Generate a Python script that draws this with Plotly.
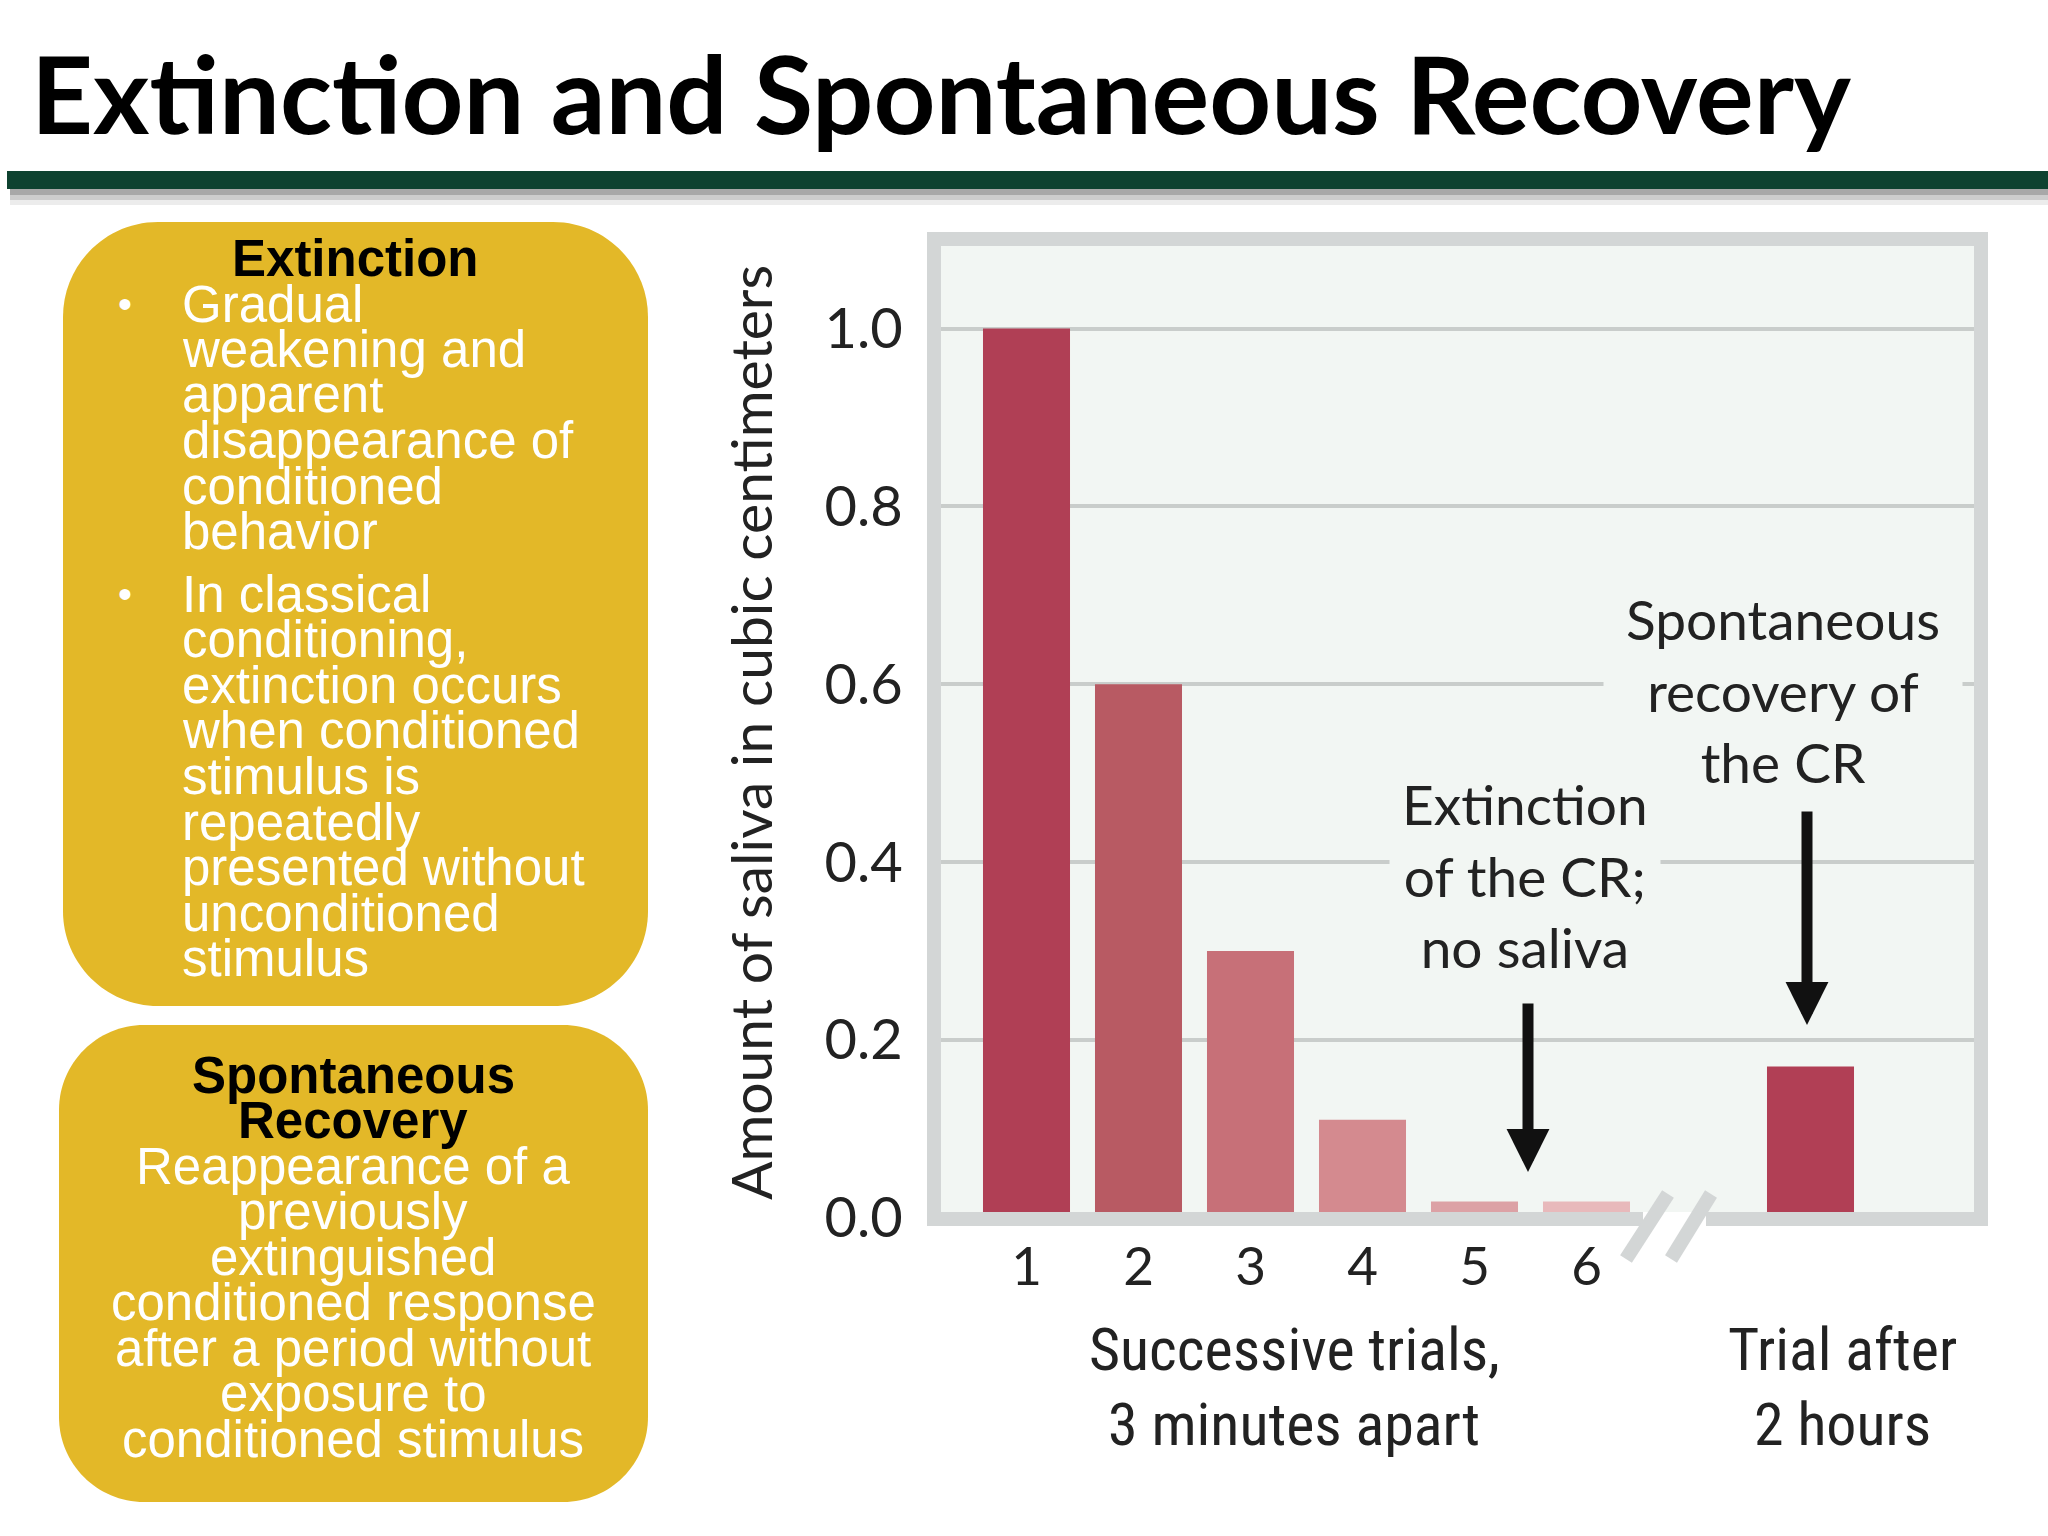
import plotly.graph_objects as go

W, H = 2048, 1536
L, R, T, B = 941, 1974, 246, 1219  # plot-area pixel bounds (bottom hidden under frame)


def px(xp):
    return (xp - L) / (R - L)


def py(yp):
    return (B - yp) / (B - T)


# ---------------- data ----------------
trial_pos = [1, 2, 3, 4, 5, 6]
trial_labels = ["1", "2", "3", "4", "5", "6"]
trial_saliva = [1.0, 0.6, 0.3, 0.11, 0.018, 0.018]
trial_colors = ["#b03f55", "#b85a63", "#c77078", "#d48a8f", "#dca1a5", "#e8b9bb"]
recovery_pos = [8]
recovery_saliva = [0.17]
recovery_colors = ["#b13f55"]
y_ticks = [0.0, 0.2, 0.4, 0.6, 0.8, 1.0]

extinction_heading = "Extinction"
extinction_bullet1 = ["Gradual", "weakening and", "apparent", "disappearance of",
                      "conditioned", "behavior"]
extinction_bullet2 = ["In classical", "conditioning,", "extinction occurs",
                      "when conditioned", "stimulus is", "repeatedly",
                      "presented without", "unconditioned", "stimulus"]
recovery_heading = ["Spontaneous", "Recovery"]
recovery_body = ["Reappearance of a", "previously", "extinguished",
                 "conditioned response", "after a period without",
                 "exposure to", "conditioned stimulus"]

CHART_FONT = "Lato, Open Sans, sans-serif"
ARIAL = "Liberation Sans, Arial, sans-serif"
NARROW = "Liberation Sans Narrow, Roboto Condensed, Arial Narrow, Liberation Sans, sans-serif"
BG = "#f2f6f3"
FRAME = "#d3d6d6"
GOLD = "#e3b828"

fig = go.Figure()
fig.add_bar(x=trial_pos, y=trial_saliva, marker_color=trial_colors,
            width=0.777, marker_line_width=0, hoverinfo="skip")
fig.add_bar(x=recovery_pos, y=recovery_saliva, marker_color=recovery_colors,
            width=0.777, marker_line_width=0, hoverinfo="skip")

ZERO_PX, UNIT_PX = 1217.6, 889.0
x_lo = 1 - (1026.5 - L) / 112.0
x_hi = 1 + (R - 1026.5) / 112.0
y_lo = -(B - ZERO_PX) / UNIT_PX
y_hi = (ZERO_PX - T) / UNIT_PX

shapes = []


def rect(x0, y0, x1, y1, color, layer="above"):
    shapes.append(dict(type="rect", xref="paper", yref="paper",
                       x0=px(x0), x1=px(x1), y0=py(y1), y1=py(y0),
                       fillcolor=color, line=dict(width=0), layer=layer))


def rrect(x0, y0, x1, y1, r, color):
    k = 0.5523 * r

    def p(a, b):
        return f"{px(a):.5f},{py(b):.5f}"
    path = (f"M{p(x0 + r, y0)} L{p(x1 - r, y0)} "
            f"C{p(x1 - r + k, y0)} {p(x1, y0 + r - k)} {p(x1, y0 + r)} "
            f"L{p(x1, y1 - r)} "
            f"C{p(x1, y1 - r + k)} {p(x1 - r + k, y1)} {p(x1 - r, y1)} "
            f"L{p(x0 + r, y1)} "
            f"C{p(x0 + r - k, y1)} {p(x0, y1 - r + k)} {p(x0, y1 - r)} "
            f"L{p(x0, y0 + r)} "
            f"C{p(x0, y0 + r - k)} {p(x0 + r - k, y0)} {p(x0 + r, y0)} Z")
    shapes.append(dict(type="path", xref="paper", yref="paper", path=path,
                       fillcolor=color, line=dict(width=0), layer="above"))


# header bar with shadow
rect(7, 171, 2048, 189, "#0e4230")
rect(10, 189, 2048, 195, "#a8a8a8")
rect(10, 195, 2048, 200, "#cdcdcd")
rect(10, 200, 2048, 205, "#ececec")

# chart frame
rect(927, 232, 1988, 246, FRAME)
rect(927, 232, 941, 1226, FRAME)
rect(1974, 232, 1988, 1226, FRAME)
rect(927, 1212, 1643, 1226, FRAME)
rect(1706, 1212, 1988, 1226, FRAME)
rect(1643, 1212, 1706, 1226, "#ffffff")
# axis break marks
for (a, b, c, d) in [(1626, 1259, 1668, 1194), (1671, 1259, 1711, 1194)]:
    shapes.append(dict(type="line", xref="paper", yref="paper",
                       x0=px(a), y0=py(b), x1=px(c), y1=py(d),
                       line=dict(color=FRAME, width=14), layer="above"))

# left boxes
rrect(63, 222, 648, 1006, 95, GOLD)
rrect(59, 1025, 648, 1502, 85, GOLD)

annotations = []


def text(s, x, y, size, color="#111", family=CHART_FONT, xanchor="center",
         weight="normal", **kw):
    annotations.append(dict(text=s, x=px(x), y=py(y), xref="paper", yref="paper",
                            xanchor=xanchor, yanchor="middle", showarrow=False,
                            font=dict(size=size, color=color, family=family,
                                      weight=weight), **kw))


# title
text("Extinction and Spontaneous Recovery", 29, 92, 108, "#000",
     family="Lato, sans-serif", xanchor="left", weight="bold")

# extinction box (tight line spacing as on the slide)
text(extinction_heading, 355, 259, 51, "#000", family=ARIAL, weight="bold")
for i, line in enumerate(extinction_bullet1):
    text(line, 180, 304 + i * 45.5, 51, "#fff", family=ARIAL, xanchor="left")
for i, line in enumerate(extinction_bullet2):
    text(line, 180, 594 + i * 45.6, 51, "#fff", family=ARIAL, xanchor="left")
text("•", 125, 304, 40, "#fff", family=ARIAL)
text("•", 125, 594, 40, "#fff", family=ARIAL)

# recovery box
for i, line in enumerate(recovery_heading):
    text(line, 353, 1075 + i * 45.5, 51, "#000", family=ARIAL, weight="bold")
for i, line in enumerate(recovery_body):
    text(line, 353, 1166 + i * 45.5, 51, "#fff", family=ARIAL)

# chart annotations
text("Spontaneous<br>recovery of<br>the CR", 1783, 690, 55, "#222",
     bgcolor=BG, borderpad=22)
text("Extinction<br>of the CR;<br>no saliva", 1525, 875, 55, "#222",
     bgcolor=BG, borderpad=12)

for (x, tip, start) in [(1528, 1172, 1002), (1807, 1025, 810)]:
    annotations.append(dict(text="", x=px(x), y=py(tip), xref="paper", yref="paper",
                            showarrow=True, ax=0, ay=-(tip - start), arrowhead=2,
                            arrowwidth=11, arrowsize=0.78, arrowcolor="#111",
                            standoff=0))

# x group labels
text("Successive trials,", 1294, 1349, 60, "#222", family=NARROW)
text("3 minutes apart", 1294, 1424, 60, "#222", family=NARROW)
text("Trial after", 1842, 1349, 60, "#222", family=NARROW)
text("2 hours", 1842, 1424, 60, "#222", family=NARROW)

fig.update_layout(
    width=W, height=H, autosize=False,
    margin=dict(l=L, r=W - R, t=T, b=H - B, pad=0),
    paper_bgcolor="#ffffff", plot_bgcolor=BG,
    barmode="overlay", showlegend=False,
    shapes=shapes, annotations=annotations,
    xaxis=dict(range=[x_lo, x_hi], tickvals=trial_pos, ticktext=trial_labels,
               ticks="outside", ticklen=1, tickcolor="rgba(0,0,0,0)",
               showgrid=False, zeroline=False, showline=False,
               tickfont=dict(size=53, color="#222", family=CHART_FONT)),
    yaxis=dict(range=[y_lo, y_hi], tickvals=y_ticks, tickformat=".1f",
               ticks="outside", ticklen=26, tickcolor="rgba(0,0,0,0)",
               showgrid=True, gridcolor="#c9cdcb", gridwidth=4,
               zeroline=False, showline=False,
               tickfont=dict(size=56, color="#222", family=CHART_FONT),
               title=dict(text="Amount of saliva in cubic centimeters",
                          font=dict(size=57, color="#222", family=CHART_FONT),
                          standoff=33)),
)

fig.write_html("out.html", config={"displayModeBar": False},
               post_script="document.body.style.margin='0';")
